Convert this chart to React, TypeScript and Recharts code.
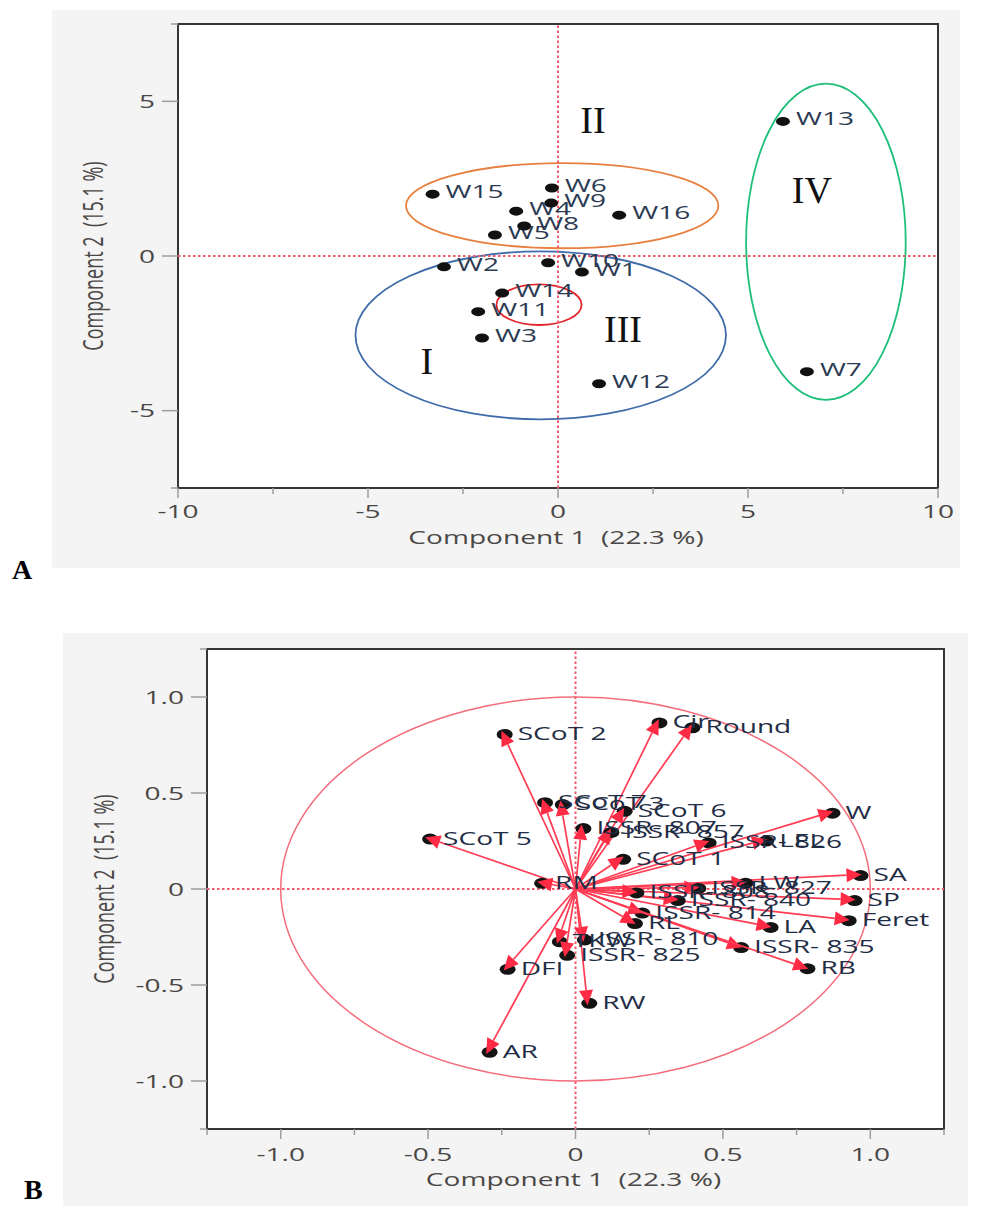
import React from 'react';
import {
  ScatterChart,
  Scatter,
  XAxis,
  YAxis,
  ReferenceLine,
  ReferenceArea,
  CartesianGrid,
} from 'recharts';

// ---------- shared style ----------
const SX = 1.56; // horizontal stretch of the reference image text
const SANS = '"Open Sans", "Noto Sans", "DejaVu Sans", sans-serif';
const SERIF = '"Liberation Serif", "DejaVu Serif", serif';
const TICK_TEXT = '#4a4846';
const TICK_LINE = '#9e9e9e';
const BORDER = '#363636';
const DOT_LINE = '#f25a6b';

// ---------- Panel A data (scores) ----------
const accessions = ['W1', 'W2', 'W3', 'W4', 'W5', 'W6', 'W7', 'W8', 'W9', 'W10', 'W11', 'W12', 'W13', 'W14', 'W15', 'W16'];
const pc1Scores = [0.63, -3.0, -2.0, -1.1, -1.66, -0.16, 6.55, -0.89, -0.18, -0.26, -2.1, 1.08, 5.92, -1.47, -3.3, 1.61];
const pc2Scores = [-0.52, -0.35, -2.65, 1.45, 0.68, 2.2, -3.74, 0.97, 1.71, -0.22, -1.8, -4.13, 4.35, -1.2, 2.0, 1.32];

const groupNames = ['I', 'II', 'III', 'IV'];
const groupNameX = [-3.45, 0.92, 1.71, 6.68];
const groupNameY = [-3.42, 4.39, -2.39, 2.13];

// ellipse bounds (data units): blue, orange, red, green
const ellipseX1 = [-5.33, -4.0, -1.62, 4.95];
const ellipseX2 = [4.42, 4.22, 0.62, 9.15];
const ellipseY1 = [-5.28, 0.25, -2.23, -4.65];
const ellipseY2 = [0.15, 3.0, -0.92, 5.57];
const ellipseColors = ['#3f6ca8', '#e8803f', '#e3262d', '#1fbf7a'];

const aXTicks = [-10, -7.5, -5, -2.5, 0, 2.5, 5, 7.5, 10];
const aXTickLabels = ['-10', '', '-5', '', '0', '', '5', '', '10'];
const aYTicks = [-7.5, -5, 0, 5, 7.5];
const aYTickLabels = ['', '-5', '0', '5', ''];

// ---------- Panel B data (loadings) ----------
const variables = [
  'SCoT 2', 'Cir', 'Round', 'SCoT 7', 'SCoT 3', 'SCoT 6', 'ISSR- 807', 'ISSR- 857',
  'SCoT 5', 'SCoT 1', 'ISSR- 826', 'LEL', 'W', 'SA', 'SP', 'Feret',
  'LW', 'ISSR- 827', 'ISSR- 840', 'ISSR- 808', 'ISSR- 814', 'LA', 'ISSR- 835', 'RB',
  'RL', 'ISSR- 810', 'TKW', 'ISSR- 825', 'DFI', 'RW', 'AR', 'RM',
];
const loading1 = [
  -0.247, 0.278, 0.39, -0.11, -0.05, 0.16, 0.02, 0.115,
  -0.5, 0.155, 0.445, 0.64, 0.865, 0.96, 0.94, 0.92,
  0.57, 0.41, 0.34, 0.2, 0.22, 0.655, 0.555, 0.78,
  0.195, 0.025, -0.06, -0.035, -0.237, 0.04, -0.298, -0.12,
];
const loading2 = [
  0.81, 0.87, 0.845, 0.455, 0.445, 0.41, 0.32, 0.3,
  0.265, 0.16, 0.245, 0.255, 0.4, 0.075, -0.055, -0.16,
  0.035, 0.008, -0.055, -0.015, -0.12, -0.195, -0.3, -0.41,
  -0.175, -0.26, -0.27, -0.34, -0.413, -0.59, -0.845, 0.035,
];

const bXTicks = [-1.25, -1, -0.75, -0.5, -0.25, 0, 0.25, 0.5, 0.75, 1, 1.25];
const bXTickLabels = ['', '-1.0', '', '-0.5', '', '0', '', '0.5', '', '1.0', ''];
const bYTicks = [-1.25, -1, -0.5, 0, 0.5, 1, 1.25];
const bYTickLabels = ['', '-1.0', '-0.5', '0', '0.5', '1.0', ''];

const xTitle = 'Component 1\u00a0\u00a0(22.3 %)';
const yTitle = 'Component 2\u00a0\u00a0(15.1 %)';

// ---------- tables built from the arrays ----------
const scoreData = accessions.map((name, i) => ({ name, x: pc1Scores[i], y: pc2Scores[i] }));
const groupData = groupNames.map((name, i) => ({ name, x: groupNameX[i], y: groupNameY[i] }));
const loadingData = variables.map((name, i) => ({ name, x: loading1[i], y: loading2[i] }));

// ---------- helpers ----------
function SText({ x, y, anchor = 'start', fill = TICK_TEXT, size = 18, children }: any) {
  return (
    <text
      transform={`translate(${x},${y}) scale(${SX},1)`}
      x={0}
      y={0}
      textAnchor={anchor}
      fill={fill}
      fontSize={size}
      fontFamily={SANS}
    >
      {children}
    </text>
  );
}

const makeXTick = (ticks: number[], labels: string[], gap: number) => (props: any) => {
  const { x, y, payload } = props;
  const i = ticks.indexOf(payload.value);
  const label = i >= 0 ? labels[i] : '';
  const major = label !== '';
  return (
    <g>
      <line x1={x} x2={x} y1={y} y2={y + (major ? 10 : 6)} stroke={TICK_LINE} strokeWidth={1.5} />
      {major && (
        <SText x={x} y={y + gap} anchor="middle">
          {label}
        </SText>
      )}
    </g>
  );
};

const makeYTick = (ticks: number[], labels: string[]) => (props: any) => {
  const { x, y, payload } = props;
  const i = ticks.indexOf(payload.value);
  const label = i >= 0 ? labels[i] : '';
  const major = label !== '';
  return (
    <g>
      <line x1={x - (major ? 16 : 7)} x2={x} y1={y} y2={y} stroke={TICK_LINE} strokeWidth={1.5} />
      {major && (
        <SText x={x - 23} y={y + 6.5} anchor="end">
          {label}
        </SText>
      )}
    </g>
  );
};

const makeXTitle = (dy: number) => (props: any) => {
  const vb = props.viewBox || {};
  const cx = (vb.x ?? 0) + (vb.width ?? 0) / 2 - 2;
  const y = (vb.y ?? 0) + dy;
  return (
    <SText x={cx} y={y} anchor="middle">
      {xTitle}
    </SText>
  );
};

const makeYTitle = (tx: number) => (props: any) => {
  const vb = props.viewBox || {};
  const cy = (vb.y ?? 0) + (vb.height ?? 0) / 2;
  return (
    <text
      transform={`translate(${tx},${cy}) scale(${SX},1) rotate(-90)`}
      textAnchor="middle"
      dominantBaseline="central"
      fill={TICK_TEXT}
      fontSize={18}
      fontFamily={SANS}
    >
      {yTitle}
    </text>
  );
};

const ellipseShape = (color: string, width: number) => (p: any) => (
  <ellipse
    cx={p.x + p.width / 2}
    cy={p.y + p.height / 2}
    rx={Math.abs(p.width) / 2}
    ry={Math.abs(p.height) / 2}
    fill="none"
    stroke={color}
    strokeWidth={width}
  />
);

const accessionShape = (p: any) => (
  <g>
    <ellipse cx={p.cx} cy={p.cy} rx={7} ry={4.5} fill="#111" />
    <SText x={p.cx + 13} y={p.cy + 4} fill="#2b3a52">
      {p.payload.name}
    </SText>
  </g>
);

const groupShape = (p: any) => (
  <text x={p.cx} y={p.cy + 12.5} textAnchor="middle" fontFamily={SERIF} fontSize={38} fill="#111">
    {p.payload.name}
  </text>
);

// labels of the loading points (markers are drawn with the arrows below so red sits over black)
const loadingShape = (p: any) => (
  <g>
    <SText x={p.cx + 15} y={p.cy + 6.5} fill="#1f2d45">
      {p.payload.name}
    </SText>
  </g>
);

const arrowShape = (p: any) => {
  const { x1, y1, x2, y2 } = p;
  const dx = x2 - x1;
  const dy = y2 - y1;
  const len = Math.hypot(dx, dy) || 1;
  const ux = dx / len;
  const uy = dy / len;
  const tipX = x2 + ux * 3;
  const tipY = y2 + uy * 3;
  const bx = tipX - ux * 15;
  const by = tipY - uy * 15;
  const px = -uy * 7;
  const py = ux * 7;
  return (
    <g>
      <ellipse cx={x2 + 2} cy={y2 + 1} rx={8} ry={5.5} fill="#141414" />
      <line x1={x1} y1={y1} x2={bx} y2={by} stroke="#ff3c53" strokeWidth={1.7} />
      <polygon
        points={`${tipX},${tipY} ${bx + px},${by + py} ${bx - px},${by - py}`}
        fill="#ff2a44"
      />
    </g>
  );
};

// ---------- panels ----------
function PanelA() {
  return (
    <ScatterChart width={982} height={590} margin={{ top: 24, right: 44, bottom: 62, left: 0 }}>
      <CartesianGrid fill="#ffffff" stroke="none" horizontal={false} vertical={false} />
      <XAxis
        type="number"
        dataKey="x"
        domain={[-10, 10]}
        ticks={aXTicks}
        interval={0}
        tickSize={0}
        tickMargin={0}
        axisLine={false}
        tickLine={false}
        height={40}
        tick={makeXTick(aXTicks, aXTickLabels, 30)}
        label={makeXTitle(56)}
      />
      <YAxis
        type="number"
        dataKey="y"
        domain={[-7.5, 7.5]}
        ticks={aYTicks}
        interval={0}
        tickSize={0}
        tickMargin={0}
        axisLine={false}
        tickLine={false}
        width={178}
        tick={makeYTick(aYTicks, aYTickLabels)}
        label={makeYTitle(92)}
      />
      <ReferenceLine x={0} stroke={DOT_LINE} strokeWidth={2} strokeDasharray="2.5 2.5" />
      <ReferenceLine y={0} stroke={DOT_LINE} strokeWidth={2} strokeDasharray="2.5 2.5" />
      {ellipseColors.map((c, i) => (
        <ReferenceArea
          key={'e' + i}
          x1={ellipseX1[i]}
          x2={ellipseX2[i]}
          y1={ellipseY1[i]}
          y2={ellipseY2[i]}
          ifOverflow="visible"
          shape={ellipseShape(c, 1.8)}
        />
      ))}
      <Scatter data={scoreData} shape={accessionShape} isAnimationActive={false} />
      <Scatter data={groupData} shape={groupShape} isAnimationActive={false} />
      <ReferenceArea
        x1={-10}
        x2={10}
        y1={-7.5}
        y2={7.5}
        ifOverflow="visible"
        fill="none"
        fillOpacity={0}
        stroke={BORDER}
        strokeWidth={2}
      />
    </ScatterChart>
  );
}

function PanelB() {
  return (
    <ScatterChart width={982} height={606} margin={{ top: 49, right: 38, bottom: 37, left: 0 }}>
      <CartesianGrid fill="#ffffff" stroke="none" horizontal={false} vertical={false} />
      <XAxis
        type="number"
        dataKey="x"
        domain={[-1.25, 1.25]}
        ticks={bXTicks}
        interval={0}
        tickSize={0}
        tickMargin={0}
        axisLine={false}
        tickLine={false}
        height={40}
        tick={makeXTick(bXTicks, bXTickLabels, 32)}
        label={makeXTitle(57)}
      />
      <YAxis
        type="number"
        dataKey="y"
        domain={[-1.25, 1.25]}
        ticks={bYTicks}
        interval={0}
        tickSize={0}
        tickMargin={0}
        axisLine={false}
        tickLine={false}
        width={207}
        tick={makeYTick(bYTicks, bYTickLabels)}
        label={makeYTitle(103)}
      />
      <ReferenceLine x={0} stroke={DOT_LINE} strokeWidth={2} strokeDasharray="2.5 2.5" />
      <ReferenceLine y={0} stroke={DOT_LINE} strokeWidth={2} strokeDasharray="2.5 2.5" />
      <ReferenceArea x1={-1} x2={1} y1={-1} y2={1} ifOverflow="visible" shape={ellipseShape('#f36d7c', 1.5)} />
      <Scatter data={loadingData} shape={loadingShape} isAnimationActive={false} />
      {loadingData.map((d, i) => (
        <ReferenceLine
          key={'a' + i}
          segment={[
            { x: 0, y: 0 },
            { x: d.x, y: d.y },
          ]}
          ifOverflow="visible"
          shape={arrowShape}
        />
      ))}
      <ReferenceArea
        x1={-1.25}
        x2={1.25}
        y1={-1.25}
        y2={1.25}
        ifOverflow="visible"
        fill="none"
        fillOpacity={0}
        stroke={BORDER}
        strokeWidth={2}
      />
    </ScatterChart>
  );
}

export default function App() {
  return (
    <div style={{ position: 'absolute', left: 0, top: 0, width: 982, height: 1206, background: '#ffffff', overflow: 'hidden' }}>
      <div style={{ position: 'absolute', left: 52, top: 10, width: 908, height: 558, background: '#f4f4f4' }} />
      <div style={{ position: 'absolute', left: 63, top: 633, width: 905, height: 573, background: '#f4f4f4' }} />
      <div style={{ position: 'absolute', left: 0, top: 0 }}>
        <PanelA />
      </div>
      <div style={{ position: 'absolute', left: 0, top: 600 }}>
        <PanelB />
      </div>
      <div style={{ position: 'absolute', left: 12, top: 556, fontFamily: SERIF, fontWeight: 'bold', fontSize: 28, lineHeight: '28px', color: '#000' }}>
        A
      </div>
      <div style={{ position: 'absolute', left: 24, top: 1176, fontFamily: SERIF, fontWeight: 'bold', fontSize: 28, lineHeight: '28px', color: '#000' }}>
        B
      </div>
    </div>
  );
}
